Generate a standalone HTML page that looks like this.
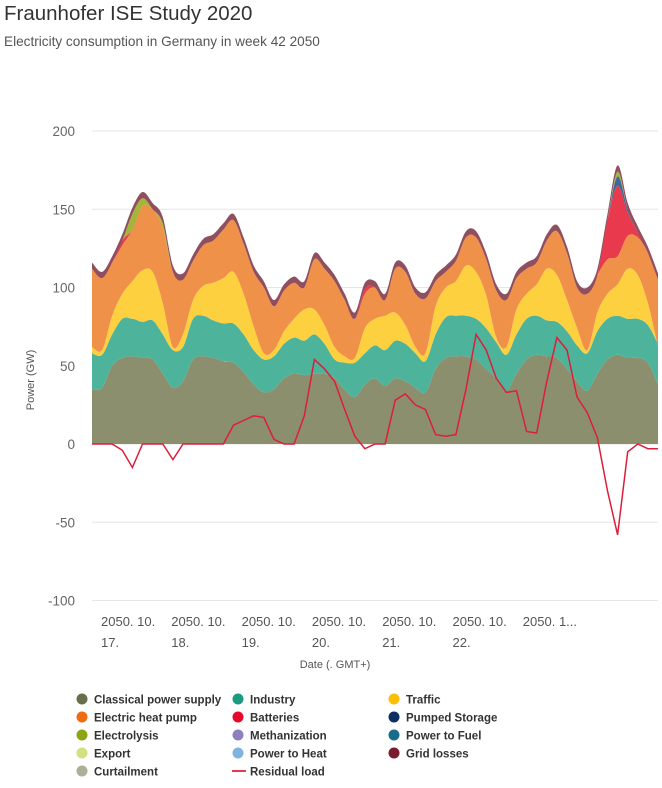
<!DOCTYPE html>
<html><head><meta charset="utf-8"><style>
body{margin:0;background:#fff;font-family:"Liberation Sans",sans-serif;}
svg text{font-family:"Liberation Sans",sans-serif;}
</style></head><body>
<svg id="chart" width="662" height="783" xmlns="http://www.w3.org/2000/svg">
<text x="4" y="20" font-size="20.5" fill="#333">Fraunhofer ISE Study 2020</text>
<text x="4" y="46" font-size="13.6" fill="#555">Electricity consumption in Germany in week 42 2050</text>
<g id="grid"></g><g id="areas"></g><g id="line"></g><g id="axes"></g><g id="legend"></g>
</svg>
<script>
const hours=[0,3,6,9,12,15,18,21,24,27,30,33,36,39,42,45,48,51,54,57,60,63,66,69,72,75,78,81,84,87,90,93,96,99,102,105,108,111,114,117,120,123,126,129,132,135,138,141,144,147,150,153,156,159,162,165,168];
const classical=[35,36,50,55,56,55,54,45,36,40,54,56,55,53,52,46,38,33,35,42,45,44,45,45,42,35,30,38,42,37,42,40,36,33,48,55,56,56,54,48,42,34,45,54,57,56,55,48,40,34,45,54,57,55,55,52,38];
const industryTop=[58,57,70,80,80,78,79,70,60,62,80,82,79,77,77,70,60,54,56,64,68,66,70,64,54,52,52,58,63,60,66,64,58,53,70,81,82,82,80,74,65,57,70,80,82,79,78,72,63,58,72,80,82,80,80,76,64];
const trafficTop=[62,60,82,96,104,111,110,90,62,70,92,101,103,106,110,96,75,58,60,72,80,86,86,76,62,56,55,74,80,82,84,76,62,58,88,100,104,114,110,95,68,62,86,96,102,112,108,92,74,60,84,96,102,112,108,90,62];
const heatTop=[112,106,116,127,137,152,150,138,110,105,117,127,130,137,143,128,110,100,88,98,103,100,118,112,104,92,80,96,100,92,112,110,96,93,104,110,117,132,132,118,98,92,106,112,116,130,136,122,100,96,108,118,120,133,132,122,105];
const industry=industryTop.map((v,i)=>v-classical[i]);
const traffic=trafficTop.map((v,i)=>v-industryTop[i]);
const heatpump=heatTop.map((v,i)=>v-trafficTop[i]);
const batteries=[0,0,0,3,0,0,0,0,0,0,0,0,0,0,0,0,0,0,0,0,0,0,0,0,0,0,0,3,0,0,0,0,0,0,0,0,0,0,0,0,0,0,0,0,0,0,0,0,0,0,0,25,45,15,3,0,0];
const electrolysis=[0,0,0,0,10,5,0,3,0,0,0,0,0,0,0,0,0,0,0,0,0,0,0,0,0,0,0,0,0,0,0,0,0,0,0,0,0,0,0,0,0,0,0,0,0,0,0,0,0,0,0,0,3,0,0,0,0];
const pumped=[0,0,0,0,0,0,0,0,0,0,0,0,0,0,0,0,0,0,0,0,0,0,0,0,0,0,0,0,0,0,0,0,0,0,0,0,0,0,0,0,0,0,0,0,0,0,0,0,0,0,0,0,6,2,0,0,0];
const gridLosses=[4,4,4,4,4,4,4,4,4,4,4,4,4,4,4,4,4,4,4,4,4,4,4,4,4,4,4,4,4,4,4,4,4,4,4,4,4,4,4,4,4,4,4,4,4,4,4,4,4,4,4,4,4,4,4,4,4];
const residual=[0,0,0,-4,-15,0,0,0,-10,0,0,0,0,0,12,15,18,17,3,0,0,18,54,48,40,22,5,-3,0,0,28,32,25,22,6,5,6,35,70,60,42,33,34,8,7,40,68,60,30,20,4,-30,-58,-5,0,-3,-3];
const yTicks=[200,150,100,50,0,-50,-100];
const xLabels=[["2050. 10.","17."],["2050. 10.","18."],["2050. 10.","19."],["2050. 10.","20."],["2050. 10.","21."],["2050. 10.","22."],["2050. 1...",""]];

const NS="http://www.w3.org/2000/svg";
const X=h=>92+h*(566/168);
const Y=v=>444-v*1.565;
function mk(tag,attrs,parent,txt){const e=document.createElementNS(NS,tag);for(const k in attrs)e.setAttribute(k,attrs[k]);if(txt!==undefined)e.textContent=txt;parent.appendChild(e);return e;}
function smooth(pts,start){
 let d=start?'M'+pts[0][0].toFixed(1)+','+pts[0][1].toFixed(1):'L'+pts[0][0].toFixed(1)+','+pts[0][1].toFixed(1);
 for(let i=0;i<pts.length-1;i++){
  const p0=pts[Math.max(0,i-1)],p1=pts[i],p2=pts[i+1],p3=pts[Math.min(pts.length-1,i+2)];
  const c1=[p1[0]+(p2[0]-p0[0])/6,p1[1]+(p2[1]-p0[1])/6];
  const c2=[p2[0]-(p3[0]-p1[0])/6,p2[1]-(p3[1]-p1[1])/6];
  d+='C'+c1[0].toFixed(1)+','+c1[1].toFixed(1)+' '+c2[0].toFixed(1)+','+c2[1].toFixed(1)+' '+p2[0].toFixed(1)+','+p2[1].toFixed(1);
 }
 return d;
}
const grid=document.getElementById('grid'),areas=document.getElementById('areas'),line=document.getElementById('line'),axes=document.getElementById('axes'),legend=document.getElementById('legend');
yTicks.forEach(t=>{
 const g=mk('line',{x1:92,x2:658,y1:Y(t),y2:Y(t),stroke:'#e6e6e6','stroke-width':1},grid);
 
 
 const l=mk('text',{x:75,y:Y(t)+5,'text-anchor':'end','font-size':13.5,fill:'#666'},axes,String(t));
 
 
});
const series=[['classical',classical,'#8c8f6e'],['industry',industry,'#4db39b'],['traffic',traffic,'#fdd03f'],['heat-pump',heatpump,'#f0914a'],['batteries',batteries,'#e8394d'],['pumped-storage',pumped,'#3d6a9d'],['electrolysis',electrolysis,'#a5b53a'],['grid-losses',gridLosses,'#904f5e']];
let base=hours.map(()=>0);
series.forEach(([name,vals,col])=>{
 const top=base.map((b,i)=>b+vals[i]);
 const tp=hours.map((h,i)=>[X(h),Y(top[i])]);
 const bp=hours.map((h,i)=>[X(h),Y(base[i])]).reverse();
 const d=smooth(tp,true)+smooth(bp,false)+'Z';
 const p=mk('path',{d:d,fill:col,stroke:'none'},areas);
 
 
 base=top;
});
const rp=mk('polyline',{points:hours.map((h,i)=>X(h).toFixed(1)+','+Y(residual[i]).toFixed(1)).join(' '),fill:'none',stroke:'#dc1e3a','stroke-width':1.5},line);


const yt=mk('text',{x:0,y:0,transform:'translate(34,380) rotate(-90)','text-anchor':'middle','font-size':11,fill:'#555'},axes,'Power (GW)');


xLabels.forEach((lb,i)=>{
 const x=101+i*70.3;
 const t=mk('text',{x:x,y:626,'font-size':13,fill:'#555'},axes,lb[0]);
 
 
 if(lb[1]){const t2=mk('text',{x:x,y:647,'font-size':13,fill:'#555'},axes,lb[1]);
 
 }
});
const xt=mk('text',{x:335,y:668,'text-anchor':'middle','font-size':11,fill:'#555'},axes,'Date (. GMT+)');


const legItems=[['Classical power supply','#6b6e4a'],['Industry','#1a9a7e'],['Traffic','#fcbf05'],['Electric heat pump','#ef6d12'],['Batteries','#e5092a'],['Pumped Storage','#0d2f63'],['Electrolysis','#8da414'],['Methanization','#8d80bd'],['Power to Fuel','#196b8b'],['Export','#d4e082'],['Power to Heat','#7fb4e0'],['Grid losses','#791b2f'],['Curtailment','#adb096'],['Residual load','line']];
const colX=[82,238,394];
legItems.forEach(([name,col],i)=>{
 const cx=colX[i%3],cy=699+Math.floor(i/3)*18;
 const g=mk('g',{},legend);
 
 
 if(col==='line')mk('line',{x1:cx-6,x2:cx+8,y1:cy,y2:cy,stroke:'#e8394d','stroke-width':2},g);
 else mk('circle',{cx:cx,cy:cy,r:5.5,fill:col},g);
 mk('text',{x:cx+12,y:cy+4.5,'font-size':11.5,'font-weight':'bold',fill:'#333'},g,name);
});
</script>
</body></html>
